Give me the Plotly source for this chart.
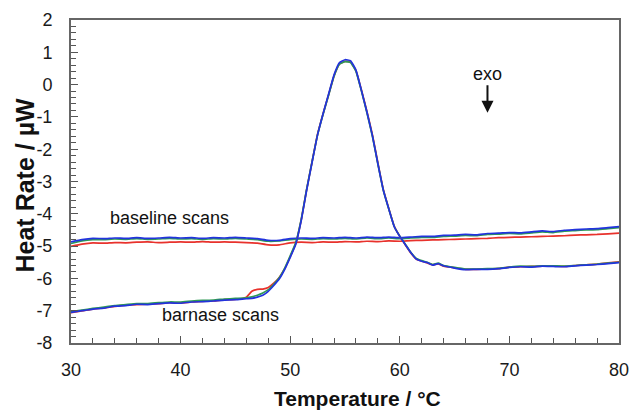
import plotly.graph_objects as go

# ---- data ----
temp_base = list(range(30, 81))
base_blue = [-4.87, -4.80, -4.76, -4.77, -4.75, -4.76, -4.74, -4.76, -4.75, -4.73,
             -4.75, -4.74, -4.76, -4.74, -4.75, -4.73, -4.75, -4.77, -4.82, -4.82,
             -4.77, -4.75, -4.76, -4.74, -4.75, -4.73, -4.75, -4.72, -4.74, -4.72,
             -4.74, -4.72, -4.70, -4.70, -4.67, -4.66, -4.64, -4.65, -4.61, -4.60,
             -4.58, -4.59, -4.56, -4.53, -4.55, -4.51, -4.49, -4.47, -4.46, -4.43,
             -4.40]
base_green = [-4.92, -4.84, -4.80, -4.80, -4.78, -4.79, -4.77, -4.79, -4.78, -4.76,
              -4.78, -4.77, -4.79, -4.77, -4.78, -4.76, -4.78, -4.80, -4.85, -4.84,
              -4.80, -4.78, -4.79, -4.77, -4.78, -4.76, -4.78, -4.75, -4.77, -4.75,
              -4.77, -4.75, -4.73, -4.73, -4.70, -4.69, -4.67, -4.68, -4.64, -4.63,
              -4.61, -4.62, -4.59, -4.56, -4.58, -4.54, -4.52, -4.50, -4.49, -4.46,
              -4.43]
base_red = [-5.01, -4.94, -4.90, -4.91, -4.89, -4.90, -4.88, -4.87, -4.89, -4.88,
            -4.87, -4.88, -4.86, -4.88, -4.87, -4.88, -4.89, -4.91, -4.96, -4.96,
            -4.90, -4.88, -4.89, -4.87, -4.88, -4.86, -4.87, -4.85, -4.86, -4.84,
            -4.85, -4.83, -4.82, -4.81, -4.80, -4.79, -4.78, -4.77, -4.76, -4.74,
            -4.73, -4.72, -4.71, -4.70, -4.69, -4.68, -4.66, -4.65, -4.64, -4.62,
            -4.60]

temp_barn = [30, 31, 32, 33, 34, 35, 36, 37, 38, 39, 40, 41, 42, 43, 44, 45, 46,
             46.5, 47, 47.5, 48, 48.5, 49, 49.5, 50, 50.5, 51, 51.5, 52, 52.5, 53,
             53.5, 54, 54.5, 55, 55.5, 56, 56.5, 57, 57.5, 58, 58.5, 59, 59.5, 60,
             60.5, 61, 61.5, 62, 62.5, 63, 63.5, 64,
             65, 66, 67, 68, 69, 70, 71, 72, 73, 74, 75, 76, 77, 78, 79, 80]
barn_blue = [-7.05, -7.00, -6.95, -6.92, -6.86, -6.84, -6.80, -6.81, -6.78, -6.76,
             -6.77, -6.73, -6.72, -6.70, -6.67, -6.66, -6.63,
             -6.62, -6.58, -6.52, -6.40, -6.22, -6.02, -5.72, -5.35, -4.95, -4.22,
             -3.27, -2.40, -1.55, -0.90, -0.30, 0.30, 0.68, 0.77, 0.74, 0.45, -0.18,
             -0.85, -1.58, -2.45, -3.27, -3.85, -4.40, -4.70, -4.95, -5.20, -5.40,
             -5.47, -5.51, -5.59, -5.54, -5.61,
             -5.68, -5.73, -5.72, -5.72, -5.70, -5.66, -5.64, -5.65, -5.62, -5.63,
             -5.64, -5.61, -5.59, -5.57, -5.54, -5.51]
barn_green = [-7.03, -6.98, -6.93, -6.89, -6.84, -6.81, -6.78, -6.78, -6.75, -6.73,
              -6.73, -6.70, -6.68, -6.67, -6.64, -6.62, -6.60,
              -6.57, -6.52, -6.45, -6.35, -6.18, -5.98, -5.68, -5.30, -4.90, -4.18,
              -3.24, -2.38, -1.55, -0.92, -0.33, 0.26, 0.63, 0.71, 0.68, 0.41, -0.20,
              -0.87, -1.60, -2.46, -3.28, -3.86, -4.40, -4.69, -4.94, -5.19, -5.38,
              -5.45, -5.50, -5.57, -5.53, -5.60,
              -5.66, -5.71, -5.71, -5.70, -5.69, -5.65, -5.62, -5.63, -5.61, -5.61,
              -5.62, -5.60, -5.58, -5.56, -5.53, -5.50]
barn_red = [-7.06, -7.01, -6.95, -6.91, -6.87, -6.83, -6.81, -6.80, -6.78, -6.75,
            -6.76, -6.73, -6.71, -6.70, -6.66, -6.65, -6.58,
            -6.40, -6.34, -6.33, -6.28, -6.15, -5.97, -5.70, -5.33, -4.93, -4.20,
            -3.25, -2.38, -1.53, -0.90, -0.32, 0.27, 0.64, 0.72, 0.70, 0.43, -0.17,
            -0.83, -1.55, -2.42, -3.25, -3.84, -4.39, -4.70, -4.96, -5.21, -5.40,
            -5.47, -5.52, -5.58, -5.55, -5.62,
            -5.67, -5.72, -5.72, -5.71, -5.70, -5.65, -5.64, -5.63, -5.62, -5.62,
            -5.63, -5.60, -5.58, -5.56, -5.52, -5.49]

x_ticks = [30, 40, 50, 60, 70, 80]
y_ticks = [2, 1, 0, -1, -2, -3, -4, -5, -6, -7, -8]

RED = "#e8322c"
GREEN = "#2f9a55"
BLUE = "#2233dd"
FONT = "Liberation Sans, Arial, Helvetica, sans-serif"

fig = go.Figure()
for x, y, c in [(temp_base, base_red, RED), (temp_base, base_green, GREEN),
                (temp_base, base_blue, BLUE),
                (temp_barn, barn_red, RED), (temp_barn, barn_green, GREEN),
                (temp_barn, barn_blue, BLUE)]:
    fig.add_trace(go.Scatter(x=x, y=y, mode="lines",
                             line=dict(color=c, width=1.7, shape="spline", smoothing=0.4),
                             showlegend=False, hoverinfo="skip"))

fig.add_annotation(x=39.0, y=-4.14, text="baseline scans", showarrow=False,
                   font=dict(family=FONT, size=18, color="#111"))
fig.add_annotation(x=43.6, y=-7.13, text="barnase scans", showarrow=False,
                   font=dict(family=FONT, size=18, color="#111"))
fig.add_annotation(x=68, y=0.34, text="exo", showarrow=False,
                   font=dict(family=FONT, size=18, color="#111"))
fig.add_annotation(x=68, y=-0.87, ax=68, ay=0.03, xref="x", yref="y",
                   axref="x", ayref="y", text="", showarrow=True,
                   arrowhead=2, arrowsize=1.2, arrowwidth=2, arrowcolor="#111")

# axis titles as annotations (pixel-placed relative to the plot area)
fig.add_annotation(xref="paper", yref="paper", x=0.522, y=0, yshift=-55,
                   xanchor="center", yanchor="middle",
                   text="<b>Temperature / °C</b>", showarrow=False,
                   font=dict(family=FONT, size=21, color="#111"))
fig.add_annotation(xref="paper", yref="paper", x=0, y=0.5, xshift=-47, yshift=-4,
                   xanchor="center", yanchor="middle",
                   text="<b>Heat Rate / µW</b>", showarrow=False, textangle=-90,
                   font=dict(family=FONT, size=25, color="#111"))

axis_common = dict(
    showgrid=False, zeroline=False, showline=True, linecolor="#666666",
    linewidth=2, mirror=True, ticks="inside", ticklen=7, tickwidth=1.3,
    tickcolor="#555555", automargin=False, ticklabeloverflow="allow",
    tickfont=dict(family=FONT, size=18, color="#1a1a1a"),
)
fig.update_xaxes(range=[30, 80], tickvals=x_ticks, ticktext=[str(v) for v in x_ticks],
                 minor=dict(dtick=2, tick0=30, ticks="inside", ticklen=5,
                            tickcolor="#555555", tickwidth=1.2),
                 ticklabelstandoff=9, **axis_common)
fig.update_yaxes(range=[-8, 2], tickvals=y_ticks, ticktext=[str(v) for v in y_ticks],
                 minor=dict(dtick=0.2, tick0=0, ticks="inside", ticklen=5,
                            tickcolor="#555555", tickwidth=1.2),
                 ticklabelstandoff=13, **axis_common)

fig.update_layout(
    width=629, height=411,
    margin=dict(l=71, r=10, t=20, b=68),
    plot_bgcolor="white", paper_bgcolor="white",
    font=dict(family=FONT),
)
fig.write_html("out.html")
